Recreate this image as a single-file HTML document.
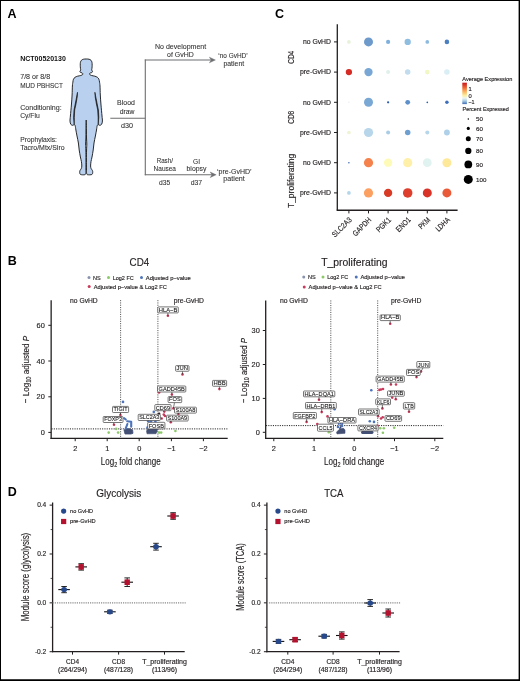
<!DOCTYPE html>
<html><head><meta charset="utf-8"><style>html,body{margin:0;padding:0;background:#fff;}svg{display:block;will-change:transform;font-family:"Liberation Sans", sans-serif;}</style></head><body>
<svg width="520" height="681" viewBox="0 0 520 681">
<rect x="0" y="0" width="520" height="681" fill="#000"/>
<rect x="1" y="1" width="517.6" height="678.25" fill="#fff"/>
<text x="7.5" y="17.6" font-size="12.5" font-weight="bold" fill="#000">A</text>
<text x="275" y="17.8" font-size="12.5" font-weight="bold" fill="#000">C</text>
<text x="7.85" y="264.8" font-size="12.5" font-weight="bold" fill="#000">B</text>
<text x="7.85" y="495.6" font-size="12.5" font-weight="bold" fill="#000">D</text>
<text x="20.2" y="61" font-size="6.9" font-weight="bold" textLength="45.6" lengthAdjust="spacingAndGlyphs" fill="#111">NCT00520130</text>
<text x="20.2" y="79.4" font-size="6.8" textLength="30" lengthAdjust="spacingAndGlyphs" fill="#333" stroke="#333" stroke-width="0.08">7/8 or 8/8</text>
<text x="20.2" y="87.5" font-size="6.8" textLength="42.7" lengthAdjust="spacingAndGlyphs" fill="#333" stroke="#333" stroke-width="0.08">MUD PBHSCT</text>
<text x="20.2" y="109.8" font-size="6.8" textLength="41.5" lengthAdjust="spacingAndGlyphs" fill="#333" stroke="#333" stroke-width="0.08">Conditioning:</text>
<text x="20.2" y="117.9" font-size="6.8" textLength="19.6" lengthAdjust="spacingAndGlyphs" fill="#333" stroke="#333" stroke-width="0.08">Cy/Flu</text>
<text x="20.2" y="141.5" font-size="6.8" textLength="36.7" lengthAdjust="spacingAndGlyphs" fill="#333" stroke="#333" stroke-width="0.08">Prophylaxis:</text>
<text x="20.2" y="149.6" font-size="6.8" textLength="44.4" lengthAdjust="spacingAndGlyphs" fill="#333" stroke="#333" stroke-width="0.08">Tacro/Mtx/Siro</text>
<path d="M86.20,59.00 C87.17,59.00 88.30,59.03 89.10,59.25 C89.90,59.47 90.53,59.79 91.00,60.30 C91.47,60.81 91.76,61.48 91.95,62.30 C92.14,63.12 92.15,64.20 92.15,65.20 C92.15,66.20 92.03,67.50 91.95,68.30 C91.88,69.10 91.61,69.43 91.70,70.00 C91.79,70.57 92.52,71.27 92.50,71.70 C92.48,72.13 91.97,72.40 91.60,72.60 C91.23,72.80 90.62,72.75 90.30,72.90 C89.98,73.05 89.78,73.22 89.70,73.50 C89.62,73.78 89.48,74.27 89.80,74.60 C90.12,74.93 90.77,75.23 91.60,75.50 C92.43,75.77 93.83,75.90 94.80,76.20 C95.77,76.50 96.72,76.80 97.40,77.30 C98.08,77.80 98.55,78.42 98.90,79.20 C99.25,79.98 99.32,80.87 99.50,82.00 C99.68,83.13 99.87,83.83 100.00,86.00 C100.13,88.17 100.13,91.83 100.30,95.00 C100.47,98.17 100.72,101.50 101.00,105.00 C101.28,108.50 101.77,113.33 102.00,116.00 C102.23,118.67 102.47,119.62 102.40,121.00 C102.33,122.38 102.05,123.58 101.60,124.30 C101.15,125.02 100.27,125.25 99.70,125.30 C99.13,125.35 98.62,124.52 98.20,124.60 C97.78,124.68 97.48,124.90 97.20,125.80 C96.92,126.70 96.80,128.30 96.50,130.00 C96.20,131.70 95.82,133.83 95.40,136.00 C94.98,138.17 94.37,140.67 94.00,143.00 C93.63,145.33 93.53,147.67 93.20,150.00 C92.87,152.33 92.37,155.08 92.00,157.00 C91.63,158.92 91.23,160.00 91.00,161.50 C90.77,163.00 90.58,164.83 90.60,166.00 C90.62,167.17 90.80,167.75 91.10,168.50 C91.40,169.25 92.13,169.82 92.40,170.50 C92.67,171.18 92.80,171.93 92.70,172.60 C92.60,173.27 92.63,174.15 91.80,174.50 C90.97,174.85 88.57,174.92 87.70,174.70 C86.83,174.48 86.81,174.15 86.60,173.20 C86.39,172.25 86.48,171.20 86.45,169.00 C86.42,166.80 86.38,163.17 86.40,160.00 C86.42,156.83 86.48,152.67 86.55,150.00 C86.62,147.33 86.81,146.00 86.80,144.00 C86.79,142.00 86.58,140.33 86.50,138.00 C86.42,135.67 86.40,133.00 86.35,130.00 C86.30,127.00 86.25,120.00 86.20,120.00 C86.15,120.00 86.10,127.00 86.05,130.00 C86.00,133.00 85.98,135.67 85.90,138.00 C85.83,140.33 85.61,142.00 85.60,144.00 C85.59,146.00 85.78,147.33 85.85,150.00 C85.92,152.67 85.98,156.83 86.00,160.00 C86.02,163.17 85.98,166.80 85.95,169.00 C85.92,171.20 86.01,172.25 85.80,173.20 C85.59,174.15 85.57,174.48 84.70,174.70 C83.83,174.92 81.43,174.85 80.60,174.50 C79.77,174.15 79.80,173.27 79.70,172.60 C79.60,171.93 79.73,171.18 80.00,170.50 C80.27,169.82 81.00,169.25 81.30,168.50 C81.60,167.75 81.78,167.17 81.80,166.00 C81.82,164.83 81.63,163.00 81.40,161.50 C81.17,160.00 80.77,158.92 80.40,157.00 C80.03,155.08 79.53,152.33 79.20,150.00 C78.87,147.67 78.77,145.33 78.40,143.00 C78.03,140.67 77.42,138.17 77.00,136.00 C76.58,133.83 76.20,131.70 75.90,130.00 C75.60,128.30 75.48,126.70 75.20,125.80 C74.92,124.90 74.62,124.68 74.20,124.60 C73.78,124.52 73.27,125.35 72.70,125.30 C72.13,125.25 71.25,125.02 70.80,124.30 C70.35,123.58 70.07,122.38 70.00,121.00 C69.93,119.62 70.17,118.67 70.40,116.00 C70.63,113.33 71.12,108.50 71.40,105.00 C71.68,101.50 71.93,98.17 72.10,95.00 C72.27,91.83 72.27,88.17 72.40,86.00 C72.53,83.83 72.72,83.13 72.90,82.00 C73.08,80.87 73.15,79.98 73.50,79.20 C73.85,78.42 74.32,77.80 75.00,77.30 C75.68,76.80 76.63,76.50 77.60,76.20 C78.57,75.90 79.97,75.77 80.80,75.50 C81.63,75.23 82.28,74.93 82.60,74.60 C82.92,74.27 82.78,73.78 82.70,73.50 C82.62,73.22 82.42,73.05 82.10,72.90 C81.78,72.75 81.17,72.80 80.80,72.60 C80.43,72.40 79.92,72.13 79.90,71.70 C79.88,71.27 80.61,70.57 80.70,70.00 C80.79,69.43 80.53,69.10 80.45,68.30 C80.38,67.50 80.25,66.20 80.25,65.20 C80.25,64.20 80.26,63.12 80.45,62.30 C80.64,61.48 80.93,60.81 81.40,60.30 C81.88,59.79 82.50,59.47 83.30,59.25 C84.10,59.03 85.23,59.00 86.20,59.00 Z" fill="#b9d1ef" stroke="#1e1e1e" stroke-width="0.95" stroke-linejoin="round"/>
<polygon points="94.90,92.30 95.80,97.00 97.20,104.00 98.40,110.00 98.80,117.40 98.20,124.60 98.10,117.40 97.70,110.00 96.40,104.00 95.20,97.00" fill="#1e1e1e" stroke="#1e1e1e" stroke-width="0.7" stroke-linejoin="round"/>
<polygon points="77.50,92.30 76.60,97.00 75.20,104.00 74.00,110.00 73.60,117.40 74.20,124.60 74.30,117.40 74.70,110.00 76.00,104.00 77.20,97.00" fill="#1e1e1e" stroke="#1e1e1e" stroke-width="0.7" stroke-linejoin="round"/>
<line x1="110.3" y1="118.3" x2="145.3" y2="118.3" stroke="#6d6e71" stroke-width="1.1"/>
<line x1="145.3" y1="59.45" x2="145.3" y2="175.35" stroke="#6d6e71" stroke-width="1.1"/>
<line x1="144.8" y1="60" x2="212" y2="60" stroke="#6d6e71" stroke-width="1.1"/>
<line x1="144.8" y1="174.8" x2="212.8" y2="174.8" stroke="#6d6e71" stroke-width="1.1"/>
<path d="M215.4,60 L209.4,57.2 L211.2,60 L209.4,62.8 Z" fill="#6d6e71" stroke="#6d6e71" stroke-width="0.4" stroke-linejoin="round"/>
<path d="M216.2,174.8 L210.2,172.0 L212.0,174.8 L210.2,177.6 Z" fill="#6d6e71" stroke="#6d6e71" stroke-width="0.4" stroke-linejoin="round"/>
<text x="126" y="104.9" font-size="6.8" text-anchor="middle" textLength="17.8" lengthAdjust="spacingAndGlyphs" fill="#333" stroke="#333" stroke-width="0.08">Blood</text>
<text x="127" y="114.2" font-size="6.8" text-anchor="middle" textLength="14.7" lengthAdjust="spacingAndGlyphs" fill="#333" stroke="#333" stroke-width="0.08">draw</text>
<text x="127" y="127.7" font-size="6.8" text-anchor="middle" textLength="12" lengthAdjust="spacingAndGlyphs" fill="#333" stroke="#333" stroke-width="0.08">d30</text>
<text x="180.6" y="48.8" font-size="6.8" text-anchor="middle" textLength="51.2" lengthAdjust="spacingAndGlyphs" fill="#333" stroke="#333" stroke-width="0.08">No development</text>
<text x="180.4" y="56.9" font-size="6.8" text-anchor="middle" textLength="26.6" lengthAdjust="spacingAndGlyphs" fill="#333" stroke="#333" stroke-width="0.08">of GvHD</text>
<text x="233" y="57.8" font-size="6.8" text-anchor="middle" textLength="29.4" lengthAdjust="spacingAndGlyphs" fill="#333" stroke="#333" stroke-width="0.08">‘no GvHD’</text>
<text x="233.8" y="65.8" font-size="6.8" text-anchor="middle" textLength="20.7" lengthAdjust="spacingAndGlyphs" fill="#333" stroke="#333" stroke-width="0.08">patient</text>
<text x="164.8" y="162.9" font-size="6.8" text-anchor="middle" textLength="16.2" lengthAdjust="spacingAndGlyphs" fill="#333" stroke="#333" stroke-width="0.08">Rash/</text>
<text x="164.8" y="171.3" font-size="6.8" text-anchor="middle" textLength="22.4" lengthAdjust="spacingAndGlyphs" fill="#333" stroke="#333" stroke-width="0.08">Nausea</text>
<text x="164.6" y="185.2" font-size="6.8" text-anchor="middle" textLength="11.2" lengthAdjust="spacingAndGlyphs" fill="#333" stroke="#333" stroke-width="0.08">d35</text>
<text x="196.6" y="163.5" font-size="6.8" text-anchor="middle" textLength="7" lengthAdjust="spacingAndGlyphs" fill="#333" stroke="#333" stroke-width="0.08">GI</text>
<text x="196.5" y="171.3" font-size="6.8" text-anchor="middle" textLength="19.9" lengthAdjust="spacingAndGlyphs" fill="#333" stroke="#333" stroke-width="0.08">biopsy</text>
<text x="196.4" y="185.3" font-size="6.8" text-anchor="middle" textLength="11.5" lengthAdjust="spacingAndGlyphs" fill="#333" stroke="#333" stroke-width="0.08">d37</text>
<text x="234.3" y="174" font-size="6.8" text-anchor="middle" textLength="34.6" lengthAdjust="spacingAndGlyphs" fill="#333" stroke="#333" stroke-width="0.08">‘pre-GvHD’</text>
<text x="234.1" y="180.7" font-size="6.8" text-anchor="middle" textLength="21.5" lengthAdjust="spacingAndGlyphs" fill="#333" stroke="#333" stroke-width="0.08">patient</text>
<line x1="337.3" y1="24.2" x2="337.3" y2="210.6" stroke="#231f20" stroke-width="1.3"/>
<line x1="336.7" y1="210.3" x2="457.6" y2="210.3" stroke="#231f20" stroke-width="1.4"/>
<line x1="334" y1="41.9" x2="337.3" y2="41.9" stroke="#231f20" stroke-width="1"/>
<text x="331" y="44.199999999999996" font-size="6.7" text-anchor="end" textLength="28.1" lengthAdjust="spacingAndGlyphs" fill="#231f20" stroke="#231f20" stroke-width="0.15">no GvHD</text>
<line x1="334" y1="72.1" x2="337.3" y2="72.1" stroke="#231f20" stroke-width="1"/>
<text x="331" y="74.39999999999999" font-size="6.7" text-anchor="end" textLength="31" lengthAdjust="spacingAndGlyphs" fill="#231f20" stroke="#231f20" stroke-width="0.15">pre-GvHD</text>
<line x1="334" y1="102.3" x2="337.3" y2="102.3" stroke="#231f20" stroke-width="1"/>
<text x="331" y="104.6" font-size="6.7" text-anchor="end" textLength="28.1" lengthAdjust="spacingAndGlyphs" fill="#231f20" stroke="#231f20" stroke-width="0.15">no GvHD</text>
<line x1="334" y1="132.5" x2="337.3" y2="132.5" stroke="#231f20" stroke-width="1"/>
<text x="331" y="134.8" font-size="6.7" text-anchor="end" textLength="31" lengthAdjust="spacingAndGlyphs" fill="#231f20" stroke="#231f20" stroke-width="0.15">pre-GvHD</text>
<line x1="334" y1="162.7" x2="337.3" y2="162.7" stroke="#231f20" stroke-width="1"/>
<text x="331" y="165.0" font-size="6.7" text-anchor="end" textLength="28.1" lengthAdjust="spacingAndGlyphs" fill="#231f20" stroke="#231f20" stroke-width="0.15">no GvHD</text>
<line x1="334" y1="192.9" x2="337.3" y2="192.9" stroke="#231f20" stroke-width="1"/>
<text x="331" y="195.20000000000002" font-size="6.7" text-anchor="end" textLength="31" lengthAdjust="spacingAndGlyphs" fill="#231f20" stroke="#231f20" stroke-width="0.15">pre-GvHD</text>
<line x1="348.9" y1="210.3" x2="348.9" y2="213.4" stroke="#231f20" stroke-width="1"/>
<line x1="368.5" y1="210.3" x2="368.5" y2="213.4" stroke="#231f20" stroke-width="1"/>
<line x1="388.09999999999997" y1="210.3" x2="388.09999999999997" y2="213.4" stroke="#231f20" stroke-width="1"/>
<line x1="407.7" y1="210.3" x2="407.7" y2="213.4" stroke="#231f20" stroke-width="1"/>
<line x1="427.29999999999995" y1="210.3" x2="427.29999999999995" y2="213.4" stroke="#231f20" stroke-width="1"/>
<line x1="446.9" y1="210.3" x2="446.9" y2="213.4" stroke="#231f20" stroke-width="1"/>
<text transform="translate(294.4,57.3) rotate(-90)" x="0" y="0" font-size="9.7" text-anchor="middle" textLength="13" lengthAdjust="spacingAndGlyphs" fill="#231f20" stroke="#231f20" stroke-width="0.15">CD4</text>
<text transform="translate(294.4,117.3) rotate(-90)" x="0" y="0" font-size="9.7" text-anchor="middle" textLength="13" lengthAdjust="spacingAndGlyphs" fill="#231f20" stroke="#231f20" stroke-width="0.15">CD8</text>
<text transform="translate(294.4,180.9) rotate(-90)" x="0" y="0" font-size="9.7" text-anchor="middle" textLength="54.3" lengthAdjust="spacingAndGlyphs" fill="#231f20" stroke="#231f20" stroke-width="0.15">T_proliferating</text>
<text transform="translate(352.29999999999995,220.4) rotate(-45)" x="0" y="0" font-size="7.8" text-anchor="end" textLength="24.5" lengthAdjust="spacingAndGlyphs" fill="#231f20" stroke="#231f20" stroke-width="0.15">SLC2A3</text>
<text transform="translate(371.9,220.4) rotate(-45)" x="0" y="0" font-size="7.8" text-anchor="end" textLength="23" lengthAdjust="spacingAndGlyphs" fill="#231f20" stroke="#231f20" stroke-width="0.15">GAPDH</text>
<text transform="translate(391.49999999999994,220.4) rotate(-45)" x="0" y="0" font-size="7.8" text-anchor="end" textLength="17.5" lengthAdjust="spacingAndGlyphs" fill="#231f20" stroke="#231f20" stroke-width="0.15">PGK1</text>
<text transform="translate(411.09999999999997,220.4) rotate(-45)" x="0" y="0" font-size="7.8" text-anchor="end" textLength="17" lengthAdjust="spacingAndGlyphs" fill="#231f20" stroke="#231f20" stroke-width="0.15">ENO1</text>
<text transform="translate(430.69999999999993,220.4) rotate(-45)" x="0" y="0" font-size="7.8" text-anchor="end" textLength="13" lengthAdjust="spacingAndGlyphs" fill="#231f20" stroke="#231f20" stroke-width="0.15">PKM</text>
<text transform="translate(450.29999999999995,220.4) rotate(-45)" x="0" y="0" font-size="7.8" text-anchor="end" textLength="16.5" lengthAdjust="spacingAndGlyphs" fill="#231f20" stroke="#231f20" stroke-width="0.15">LDHA</text>
<circle cx="348.9" cy="41.9" r="1.85" fill="#e6f2da"/>
<circle cx="368.5" cy="41.9" r="4.5" fill="#6d9acb"/>
<circle cx="388.09999999999997" cy="41.9" r="2.1" fill="#7fb0dd"/>
<circle cx="407.7" cy="41.9" r="3.15" fill="#8fbde0"/>
<circle cx="427.29999999999995" cy="41.9" r="1.85" fill="#8cbadf"/>
<circle cx="446.9" cy="41.9" r="2.3" fill="#4a7fc1"/>
<circle cx="348.9" cy="72.1" r="3.15" fill="#d62a24"/>
<circle cx="368.5" cy="72.1" r="4.15" fill="#79a7d5"/>
<circle cx="388.09999999999997" cy="72.1" r="2.0" fill="#e0f0ec"/>
<circle cx="407.7" cy="72.1" r="2.75" fill="#c0dcee"/>
<circle cx="427.29999999999995" cy="72.1" r="2.3" fill="#f2f7c6"/>
<circle cx="446.9" cy="72.1" r="2.75" fill="#d9eef5"/>
<circle cx="348.9" cy="102.3" r="0.75" fill="#e8eef8"/>
<circle cx="368.5" cy="102.3" r="4.5" fill="#7aa8d4"/>
<circle cx="388.09999999999997" cy="102.3" r="1.15" fill="#2f5fae"/>
<circle cx="407.7" cy="102.3" r="2.4" fill="#5d8fca"/>
<circle cx="427.29999999999995" cy="102.3" r="0.85" fill="#3060b0"/>
<circle cx="446.9" cy="102.3" r="1.75" fill="#3d6fbb"/>
<circle cx="348.9" cy="132.5" r="1.85" fill="#eef5d5"/>
<circle cx="368.5" cy="132.5" r="4.6" fill="#b8d6ea"/>
<circle cx="388.09999999999997" cy="132.5" r="2.0" fill="#a9cde6"/>
<circle cx="407.7" cy="132.5" r="2.75" fill="#6d9fd0"/>
<circle cx="427.29999999999995" cy="132.5" r="2.0" fill="#b7d6ea"/>
<circle cx="446.9" cy="132.5" r="2.9" fill="#aed0e8"/>
<circle cx="348.9" cy="162.7" r="0.75" fill="#3a64b0"/>
<circle cx="368.5" cy="162.7" r="4.6" fill="#f5824c"/>
<circle cx="388.09999999999997" cy="162.7" r="4.15" fill="#fefbb8"/>
<circle cx="407.7" cy="162.7" r="4.6" fill="#fef0a8"/>
<circle cx="427.29999999999995" cy="162.7" r="4.35" fill="#e0f3f0"/>
<circle cx="446.9" cy="162.7" r="4.5" fill="#fee89a"/>
<circle cx="348.9" cy="192.9" r="1.85" fill="#b4d4ea"/>
<circle cx="368.5" cy="192.9" r="4.6" fill="#fca062"/>
<circle cx="388.09999999999997" cy="192.9" r="4.15" fill="#d93a25"/>
<circle cx="407.7" cy="192.9" r="4.75" fill="#de3e2c"/>
<circle cx="427.29999999999995" cy="192.9" r="4.5" fill="#d93226"/>
<circle cx="446.9" cy="192.9" r="4.5" fill="#e85a38"/>
<text x="462.3" y="80.8" font-size="5.3" textLength="50" lengthAdjust="spacingAndGlyphs" fill="#231f20" stroke="#231f20" stroke-width="0.15">Average Expression</text>
<defs><linearGradient id="cb" x1="0" y1="0" x2="0" y2="1"><stop offset="0" stop-color="#c8161d"/><stop offset="0.2" stop-color="#ea5a2e"/><stop offset="0.4" stop-color="#fbad5a"/><stop offset="0.6" stop-color="#fdf0a0"/><stop offset="0.72" stop-color="#eef6f0"/><stop offset="0.85" stop-color="#a8cce6"/><stop offset="1" stop-color="#3b6db5"/></linearGradient></defs>
<rect x="462.3" y="82.7" width="4.6" height="21.4" fill="url(#cb)"/>
<text x="468.6" y="90.8" font-size="5.8" fill="#231f20" stroke="#231f20" stroke-width="0.15">1</text>
<text x="468.4" y="97.7" font-size="5.8" fill="#231f20" stroke="#231f20" stroke-width="0.15">0</text>
<text x="468.4" y="104.4" font-size="5.8" textLength="6.2" lengthAdjust="spacingAndGlyphs" fill="#231f20" stroke="#231f20" stroke-width="0.15">−1</text>
<text x="462.5" y="111.25" font-size="5.3" textLength="46.25" lengthAdjust="spacingAndGlyphs" fill="#231f20" stroke="#231f20" stroke-width="0.15">Percent Expressed</text>
<circle cx="468.3" cy="119" r="0.75" fill="#000"/>
<text x="476" y="121.2" font-size="6.2" fill="#231f20" stroke="#231f20" stroke-width="0.15">50</text>
<circle cx="468.3" cy="128.4" r="1.55" fill="#000"/>
<text x="476" y="130.6" font-size="6.2" fill="#231f20" stroke="#231f20" stroke-width="0.15">60</text>
<circle cx="468.3" cy="138.75" r="2.5" fill="#000"/>
<text x="476" y="140.95" font-size="6.2" fill="#231f20" stroke="#231f20" stroke-width="0.15">70</text>
<circle cx="468.3" cy="150.9" r="3.125" fill="#000"/>
<text x="476" y="153.1" font-size="6.2" fill="#231f20" stroke="#231f20" stroke-width="0.15">80</text>
<circle cx="468.3" cy="164.4" r="3.875" fill="#000"/>
<text x="476" y="166.6" font-size="6.2" fill="#231f20" stroke="#231f20" stroke-width="0.15">90</text>
<circle cx="468.3" cy="179.4" r="4.5" fill="#000"/>
<text x="476" y="181.6" font-size="6.2" fill="#231f20" stroke="#231f20" stroke-width="0.15">100</text>
<text x="129.6" y="265.8" font-size="10.3" textLength="19.6" lengthAdjust="spacingAndGlyphs" fill="#231f20" stroke="#231f20" stroke-width="0.15">CD4</text>
<circle cx="89" cy="277.5" r="1.5" fill="#8a93ad"/>
<text x="93.1" y="279.8" font-size="5.9" textLength="7.7" lengthAdjust="spacingAndGlyphs" fill="#231f20" stroke="#231f20" stroke-width="0.15">NS</text>
<circle cx="108.5" cy="277.5" r="1.5" fill="#8dc96a"/>
<text x="112.7" y="279.8" font-size="5.9" textLength="21.1" lengthAdjust="spacingAndGlyphs" fill="#231f20" stroke="#231f20" stroke-width="0.15">Log2 FC</text>
<circle cx="141.5" cy="277.5" r="1.5" fill="#4d74bb"/>
<text x="145.8" y="279.8" font-size="5.9" textLength="45" lengthAdjust="spacingAndGlyphs" fill="#231f20" stroke="#231f20" stroke-width="0.15">Adjusted p−value</text>
<circle cx="89.2" cy="286.5" r="1.5" fill="#c93a5c"/>
<text x="93.8" y="288.7" font-size="5.9" textLength="73.1" lengthAdjust="spacingAndGlyphs" fill="#231f20" stroke="#231f20" stroke-width="0.15">Adjusted p−value &amp; Log2 FC</text>
<line x1="51.15" y1="300.2" x2="51.15" y2="439" stroke="#231f20" stroke-width="1.3"/>
<line x1="50.5" y1="438.4" x2="227.7" y2="438.4" stroke="#231f20" stroke-width="1.3"/>
<line x1="48.3" y1="432.4" x2="51.15" y2="432.4" stroke="#231f20" stroke-width="1"/>
<text x="44.8" y="435.0" font-size="7.4" text-anchor="end" fill="#231f20" stroke="#231f20" stroke-width="0.15">0</text>
<line x1="48.3" y1="396.8" x2="51.15" y2="396.8" stroke="#231f20" stroke-width="1"/>
<text x="44.8" y="399.40000000000003" font-size="7.4" text-anchor="end" fill="#231f20" stroke="#231f20" stroke-width="0.15">20</text>
<line x1="48.3" y1="361" x2="51.15" y2="361" stroke="#231f20" stroke-width="1"/>
<text x="44.8" y="363.6" font-size="7.4" text-anchor="end" fill="#231f20" stroke="#231f20" stroke-width="0.15">40</text>
<line x1="48.3" y1="325.3" x2="51.15" y2="325.3" stroke="#231f20" stroke-width="1"/>
<text x="44.8" y="327.90000000000003" font-size="7.4" text-anchor="end" fill="#231f20" stroke="#231f20" stroke-width="0.15">60</text>
<line x1="75.2" y1="438.4" x2="75.2" y2="441.2" stroke="#231f20" stroke-width="1"/>
<text x="75.2" y="451.2" font-size="7.4" text-anchor="middle" fill="#231f20" stroke="#231f20" stroke-width="0.15">2</text>
<line x1="107.2" y1="438.4" x2="107.2" y2="441.2" stroke="#231f20" stroke-width="1"/>
<text x="107.2" y="451.2" font-size="7.4" text-anchor="middle" fill="#231f20" stroke="#231f20" stroke-width="0.15">1</text>
<line x1="139.2" y1="438.4" x2="139.2" y2="441.2" stroke="#231f20" stroke-width="1"/>
<text x="139.2" y="451.2" font-size="7.4" text-anchor="middle" fill="#231f20" stroke="#231f20" stroke-width="0.15">0</text>
<line x1="171.4" y1="438.4" x2="171.4" y2="441.2" stroke="#231f20" stroke-width="1"/>
<text x="171.4" y="451.2" font-size="7.4" text-anchor="middle" fill="#231f20" stroke="#231f20" stroke-width="0.15">−1</text>
<line x1="203.4" y1="438.4" x2="203.4" y2="441.2" stroke="#231f20" stroke-width="1"/>
<text x="203.4" y="451.2" font-size="7.4" text-anchor="middle" fill="#231f20" stroke="#231f20" stroke-width="0.15">−2</text>
<text x="100.8" y="464.6" font-size="10" fill="#231f20" stroke="#231f20" stroke-width="0.15" textLength="59.9" lengthAdjust="spacingAndGlyphs">Log<tspan font-size="6.8" dy="2.1">2</tspan><tspan dy="-2.1"> fold change</tspan></text>
<text transform="translate(29.3,369.6) rotate(-90)" x="0" y="0" font-size="9.8" text-anchor="middle" fill="#231f20" stroke="#231f20" stroke-width="0.15" textLength="67.4" lengthAdjust="spacingAndGlyphs">− Log<tspan font-size="6.8" dy="2.1">10</tspan><tspan dy="-2.1"> adjusted </tspan><tspan font-style="italic">P</tspan></text>
<line x1="120.6" y1="300.1" x2="120.6" y2="438" stroke="#3a3a3a" stroke-width="0.85" stroke-dasharray="1.1 1.2"/>
<line x1="157.9" y1="300.1" x2="157.9" y2="438" stroke="#3a3a3a" stroke-width="0.85" stroke-dasharray="1.1 1.2"/>
<line x1="51.5" y1="428.9" x2="227.7" y2="428.9" stroke="#222" stroke-width="1.0" stroke-dasharray="1.1 1.2"/>
<text x="70.1" y="303.1" font-size="6.4" textLength="27.6" lengthAdjust="spacingAndGlyphs" fill="#231f20" stroke="#231f20" stroke-width="0.15">no GvHD</text>
<text x="173.7" y="303.1" font-size="6.4" textLength="30.3" lengthAdjust="spacingAndGlyphs" fill="#231f20" stroke="#231f20" stroke-width="0.15">pre-GvHD</text>
<polygon points="124,430 126,428.7 130,428.8 132.6,430 133,433.3 131,434 125,434" fill="#434f74" stroke="#434f74" stroke-width="0.8" stroke-linejoin="round"/>
<polyline points="124.2,418.2 125.8,419.5" fill="none" stroke="#4d74bb" stroke-width="2.1" stroke-linecap="round" stroke-linejoin="round"/>
<polyline points="127.2,421.3 131.2,421.8 131.2,426.8" fill="none" stroke="#4d74bb" stroke-width="2.1" stroke-linecap="round" stroke-linejoin="round"/>
<polyline points="127.4,424.0 126.6,426.2 125.6,428.6" fill="none" stroke="#4d74bb" stroke-width="2.1" stroke-linecap="round" stroke-linejoin="round"/>
<circle cx="148.0" cy="421.0" r="1.3" fill="#4d74bb"/>
<circle cx="149.5" cy="422.5" r="1.3" fill="#4d74bb"/>
<circle cx="150.0" cy="424.5" r="1.3" fill="#4d74bb"/>
<circle cx="151.0" cy="421.6" r="1.3" fill="#4d74bb"/>
<circle cx="153.5" cy="424.0" r="1.3" fill="#4d74bb"/>
<circle cx="155.0" cy="426.0" r="1.3" fill="#4d74bb"/>
<circle cx="149.0" cy="426.5" r="1.3" fill="#4d74bb"/>
<circle cx="147.5" cy="427.5" r="1.3" fill="#4d74bb"/>
<circle cx="155.4" cy="421.6" r="1.3" fill="#4d74bb"/>
<circle cx="156" cy="423.5" r="1.3" fill="#4d74bb"/>
<polygon points="146.5,431 148,428.3 156.8,428.1 157.3,431 156,433.7 147,433.8" fill="#434f74" stroke="#434f74" stroke-width="0.6" stroke-linejoin="round"/>
<circle cx="123" cy="401.9" r="1.3" fill="#4d74bb"/>
<circle cx="153.8" cy="411.9" r="1.3" fill="#4d74bb"/>
<circle cx="108.7" cy="432.6" r="1.3" fill="#8dc96a"/>
<circle cx="116.2" cy="428.9" r="1.3" fill="#8dc96a"/>
<circle cx="118.1" cy="432.6" r="1.3" fill="#8dc96a"/>
<circle cx="159.2" cy="432.6" r="1.3" fill="#8dc96a"/>
<circle cx="161.2" cy="432.6" r="1.3" fill="#8dc96a"/>
<circle cx="175.4" cy="431" r="1.3" fill="#8dc96a"/>
<circle cx="167.9" cy="315.8" r="1.3" fill="#c93a5c"/>
<circle cx="182.5" cy="374.4" r="1.3" fill="#c93a5c"/>
<circle cx="219.4" cy="389.1" r="1.3" fill="#c93a5c"/>
<circle cx="171.9" cy="394.6" r="1.3" fill="#c93a5c"/>
<circle cx="159.1" cy="392.5" r="1.3" fill="#c93a5c"/>
<circle cx="173.4" cy="408.4" r="1.3" fill="#c93a5c"/>
<circle cx="178.4" cy="414.1" r="1.3" fill="#c93a5c"/>
<circle cx="170.8" cy="422.3" r="1.3" fill="#c93a5c"/>
<circle cx="163.8" cy="414.6" r="1.3" fill="#c93a5c"/>
<circle cx="161.7" cy="418.5" r="1.3" fill="#c93a5c"/>
<circle cx="164.3" cy="411.6" r="1.3" fill="#c93a5c"/>
<circle cx="120.4" cy="415.1" r="1.3" fill="#c93a5c"/>
<circle cx="114" cy="424.7" r="1.3" fill="#c93a5c"/>
<circle cx="165" cy="416" r="1.3" fill="#c93a5c"/>
<circle cx="159.1" cy="413.7" r="1.3" fill="#2a1a22"/>
<line x1="167.9" y1="312.9" x2="167.9" y2="315.8" stroke="#222" stroke-width="0.6"/>
<line x1="182.5" y1="371.25" x2="182.5" y2="374.4" stroke="#222" stroke-width="0.6"/>
<line x1="219.4" y1="386.25" x2="219.4" y2="389.1" stroke="#222" stroke-width="0.6"/>
<line x1="171.9" y1="392" x2="171.9" y2="394.6" stroke="#222" stroke-width="0.6"/>
<line x1="174.5" y1="402.6" x2="173.4" y2="408.4" stroke="#222" stroke-width="0.6"/>
<line x1="120.4" y1="412.5" x2="120.4" y2="415.1" stroke="#222" stroke-width="0.6"/>
<line x1="113.5" y1="422.5" x2="114" y2="424.7" stroke="#222" stroke-width="0.6"/>
<line x1="178.4" y1="413.1" x2="178.4" y2="414.1" stroke="#222" stroke-width="0.6"/>
<line x1="170.8" y1="421" x2="170.8" y2="422.3" stroke="#222" stroke-width="0.6"/>
<line x1="163" y1="410.7" x2="164.3" y2="411.6" stroke="#222" stroke-width="0.6"/>
<line x1="160.3" y1="417.5" x2="161.7" y2="418.5" stroke="#222" stroke-width="0.6"/>
<rect x="157.8" y="306.9" width="20.50" height="6.00" rx="0.8" fill="#fff" stroke="#4a4a4a" stroke-width="0.75"/>
<text x="168.05" y="311.75" font-size="5.8" text-anchor="middle" textLength="18.5" lengthAdjust="spacingAndGlyphs" fill="#1a1a1a" stroke="#1a1a1a" stroke-width="0.1">HLA−B</text>
<rect x="175.6" y="365.6" width="13.40" height="5.65" rx="0.8" fill="#fff" stroke="#4a4a4a" stroke-width="0.75"/>
<text x="182.3" y="370.1" font-size="5.8" text-anchor="middle" textLength="11.4" lengthAdjust="spacingAndGlyphs" fill="#1a1a1a" stroke="#1a1a1a" stroke-width="0.1">JUN</text>
<rect x="212.5" y="380.4" width="14.10" height="5.85" rx="0.8" fill="#fff" stroke="#4a4a4a" stroke-width="0.75"/>
<text x="219.55" y="385.1" font-size="5.8" text-anchor="middle" textLength="12.1" lengthAdjust="spacingAndGlyphs" fill="#1a1a1a" stroke="#1a1a1a" stroke-width="0.1">HBB</text>
<rect x="157.5" y="386" width="28.30" height="6.00" rx="0.8" fill="#fff" stroke="#4a4a4a" stroke-width="0.75"/>
<text x="171.65" y="390.85" font-size="5.8" text-anchor="middle" textLength="26.3" lengthAdjust="spacingAndGlyphs" fill="#1a1a1a" stroke="#1a1a1a" stroke-width="0.1">GADD45B</text>
<rect x="168.1" y="396.6" width="13.60" height="6.00" rx="0.8" fill="#fff" stroke="#4a4a4a" stroke-width="0.75"/>
<text x="174.89999999999998" y="401.45000000000005" font-size="5.8" text-anchor="middle" textLength="11.6" lengthAdjust="spacingAndGlyphs" fill="#1a1a1a" stroke="#1a1a1a" stroke-width="0.1">FOS</text>
<rect x="154.8" y="404.6" width="16.20" height="6.10" rx="0.8" fill="#fff" stroke="#4a4a4a" stroke-width="0.75"/>
<text x="162.9" y="409.55" font-size="5.8" text-anchor="middle" textLength="14.2" lengthAdjust="spacingAndGlyphs" fill="#1a1a1a" stroke="#1a1a1a" stroke-width="0.1">CD69</text>
<rect x="174.5" y="407.2" width="21.90" height="5.90" rx="0.8" fill="#fff" stroke="#4a4a4a" stroke-width="0.75"/>
<text x="185.45" y="411.95000000000005" font-size="5.8" text-anchor="middle" textLength="19.9" lengthAdjust="spacingAndGlyphs" fill="#1a1a1a" stroke="#1a1a1a" stroke-width="0.1">S100A8</text>
<rect x="166.6" y="415.2" width="21.60" height="5.80" rx="0.8" fill="#fff" stroke="#4a4a4a" stroke-width="0.75"/>
<text x="177.39999999999998" y="419.85" font-size="5.8" text-anchor="middle" textLength="19.6" lengthAdjust="spacingAndGlyphs" fill="#1a1a1a" stroke="#1a1a1a" stroke-width="0.1">S100A9</text>
<rect x="138.2" y="414.3" width="22.10" height="6.20" rx="0.8" fill="#fff" stroke="#4a4a4a" stroke-width="0.75"/>
<text x="149.25" y="419.35" font-size="5.8" text-anchor="middle" textLength="20.1" lengthAdjust="spacingAndGlyphs" fill="#1a1a1a" stroke="#1a1a1a" stroke-width="0.1">SLC2A3</text>
<rect x="147.7" y="422.3" width="17.20" height="6.60" rx="0.8" fill="#fff" stroke="#4a4a4a" stroke-width="0.75"/>
<text x="156.3" y="427.75" font-size="5.8" text-anchor="middle" textLength="15.2" lengthAdjust="spacingAndGlyphs" fill="#1a1a1a" stroke="#1a1a1a" stroke-width="0.1">FOSB</text>
<rect x="112.5" y="406.4" width="16.10" height="6.10" rx="0.8" fill="#fff" stroke="#4a4a4a" stroke-width="0.75"/>
<text x="120.55" y="411.35" font-size="5.8" text-anchor="middle" textLength="14.1" lengthAdjust="spacingAndGlyphs" fill="#1a1a1a" stroke="#1a1a1a" stroke-width="0.1">TIGIT</text>
<rect x="103.2" y="416.5" width="19.80" height="6.00" rx="0.8" fill="#fff" stroke="#4a4a4a" stroke-width="0.75"/>
<text x="113.1" y="421.35" font-size="5.8" text-anchor="middle" textLength="17.8" lengthAdjust="spacingAndGlyphs" fill="#1a1a1a" stroke="#1a1a1a" stroke-width="0.1">FOXP3</text>
<text x="321.25" y="266.25" font-size="10.3" textLength="66.25" lengthAdjust="spacingAndGlyphs" fill="#231f20" stroke="#231f20" stroke-width="0.15">T_proliferating</text>
<circle cx="303.75" cy="277" r="1.5" fill="#8a93ad"/>
<text x="307.9" y="279.3" font-size="5.9" textLength="7.7" lengthAdjust="spacingAndGlyphs" fill="#231f20" stroke="#231f20" stroke-width="0.15">NS</text>
<circle cx="323" cy="277" r="1.5" fill="#8dc96a"/>
<text x="327.2" y="279.3" font-size="5.9" textLength="21.1" lengthAdjust="spacingAndGlyphs" fill="#231f20" stroke="#231f20" stroke-width="0.15">Log2 FC</text>
<circle cx="356.25" cy="277" r="1.5" fill="#4d74bb"/>
<text x="360.5" y="279.3" font-size="5.9" textLength="44.5" lengthAdjust="spacingAndGlyphs" fill="#231f20" stroke="#231f20" stroke-width="0.15">Adjusted p−value</text>
<circle cx="304.25" cy="287" r="1.5" fill="#c93a5c"/>
<text x="308.6" y="289.2" font-size="5.9" textLength="73.1" lengthAdjust="spacingAndGlyphs" fill="#231f20" stroke="#231f20" stroke-width="0.15">Adjusted p−value &amp; Log2 FC</text>
<line x1="265.7" y1="300.5" x2="265.7" y2="439" stroke="#231f20" stroke-width="1.3"/>
<line x1="265.1" y1="438.4" x2="443.3" y2="438.4" stroke="#231f20" stroke-width="1.3"/>
<line x1="262.8" y1="432.3" x2="265.7" y2="432.3" stroke="#231f20" stroke-width="1"/>
<text x="259.8" y="434.90000000000003" font-size="7.4" text-anchor="end" fill="#231f20" stroke="#231f20" stroke-width="0.15">0</text>
<line x1="262.8" y1="398.4" x2="265.7" y2="398.4" stroke="#231f20" stroke-width="1"/>
<text x="259.8" y="401.0" font-size="7.4" text-anchor="end" fill="#231f20" stroke="#231f20" stroke-width="0.15">10</text>
<line x1="262.8" y1="364.5" x2="265.7" y2="364.5" stroke="#231f20" stroke-width="1"/>
<text x="259.8" y="367.1" font-size="7.4" text-anchor="end" fill="#231f20" stroke="#231f20" stroke-width="0.15">20</text>
<line x1="262.8" y1="330.5" x2="265.7" y2="330.5" stroke="#231f20" stroke-width="1"/>
<text x="259.8" y="333.1" font-size="7.4" text-anchor="end" fill="#231f20" stroke="#231f20" stroke-width="0.15">30</text>
<line x1="273.8" y1="438.4" x2="273.8" y2="441.2" stroke="#231f20" stroke-width="1"/>
<text x="273.8" y="451.2" font-size="7.4" text-anchor="middle" fill="#231f20" stroke="#231f20" stroke-width="0.15">2</text>
<line x1="314.1" y1="438.4" x2="314.1" y2="441.2" stroke="#231f20" stroke-width="1"/>
<text x="314.1" y="451.2" font-size="7.4" text-anchor="middle" fill="#231f20" stroke="#231f20" stroke-width="0.15">1</text>
<line x1="354.2" y1="438.4" x2="354.2" y2="441.2" stroke="#231f20" stroke-width="1"/>
<text x="354.2" y="451.2" font-size="7.4" text-anchor="middle" fill="#231f20" stroke="#231f20" stroke-width="0.15">0</text>
<line x1="394.5" y1="438.4" x2="394.5" y2="441.2" stroke="#231f20" stroke-width="1"/>
<text x="394.5" y="451.2" font-size="7.4" text-anchor="middle" fill="#231f20" stroke="#231f20" stroke-width="0.15">−1</text>
<line x1="434.8" y1="438.4" x2="434.8" y2="441.2" stroke="#231f20" stroke-width="1"/>
<text x="434.8" y="451.2" font-size="7.4" text-anchor="middle" fill="#231f20" stroke="#231f20" stroke-width="0.15">−2</text>
<text x="324" y="464.8" font-size="10" fill="#231f20" stroke="#231f20" stroke-width="0.15" textLength="60.2" lengthAdjust="spacingAndGlyphs">Log<tspan font-size="6.8" dy="2.1">2</tspan><tspan dy="-2.1"> fold change</tspan></text>
<text transform="translate(246.6,370.5) rotate(-90)" x="0" y="0" font-size="9.8" text-anchor="middle" fill="#231f20" stroke="#231f20" stroke-width="0.15" textLength="65" lengthAdjust="spacingAndGlyphs">− Log<tspan font-size="6.8" dy="2.1">10</tspan><tspan dy="-2.1"> adjusted </tspan><tspan font-style="italic">P</tspan></text>
<line x1="330.8" y1="300.4" x2="330.8" y2="438" stroke="#3a3a3a" stroke-width="0.85" stroke-dasharray="1.1 1.2"/>
<line x1="377.7" y1="300.4" x2="377.7" y2="438" stroke="#3a3a3a" stroke-width="0.85" stroke-dasharray="1.1 1.2"/>
<line x1="266" y1="425.6" x2="443.3" y2="425.6" stroke="#222" stroke-width="1.0" stroke-dasharray="1.1 1.2"/>
<text x="279.9" y="303.1" font-size="6.4" textLength="27.9" lengthAdjust="spacingAndGlyphs" fill="#231f20" stroke="#231f20" stroke-width="0.15">no GvHD</text>
<text x="390.9" y="303.1" font-size="6.4" textLength="30.5" lengthAdjust="spacingAndGlyphs" fill="#231f20" stroke="#231f20" stroke-width="0.15">pre-GvHD</text>
<polygon points="336.5,432.2 339,429.6 341.5,428.6 343.5,428.3 345,430 345,433.3 337,433.9" fill="#434f74" stroke="#434f74" stroke-width="0.6" stroke-linejoin="round"/>
<line x1="342.2" y1="424.6" x2="339.6" y2="428.8" stroke="#3c4a74" stroke-width="1.6"/>
<circle cx="338.6" cy="423.9" r="1.0" fill="#5070b8"/>
<circle cx="340.5" cy="423.7" r="1.0" fill="#5070b8"/>
<circle cx="342.3" cy="424.0" r="1.0" fill="#5070b8"/>
<rect x="361.0" y="431.0" width="12.50" height="2.90" rx="1.4" fill="#434f74"/>
<circle cx="369.8" cy="421.3" r="1.3" fill="#4d74bb"/>
<circle cx="374" cy="421.9" r="1.3" fill="#4d74bb"/>
<circle cx="371.3" cy="390.2" r="1.3" fill="#4d74bb"/>
<circle cx="334.6" cy="409.2" r="1.3" fill="#4d74bb"/>
<circle cx="338" cy="427" r="1.3" fill="#4d74bb"/>
<circle cx="342" cy="426" r="1.3" fill="#4d74bb"/>
<circle cx="328.8" cy="432.3" r="1.3" fill="#8dc96a"/>
<circle cx="380.2" cy="428.3" r="1.3" fill="#8dc96a"/>
<circle cx="383.8" cy="428.3" r="1.3" fill="#8dc96a"/>
<circle cx="382.9" cy="432.7" r="1.3" fill="#8dc96a"/>
<circle cx="394.2" cy="427.7" r="1.3" fill="#8dc96a"/>
<circle cx="390.2" cy="323.7" r="1.3" fill="#c93a5c"/>
<circle cx="421" cy="371.6" r="1.3" fill="#c93a5c"/>
<circle cx="416.5" cy="377.1" r="1.3" fill="#c93a5c"/>
<circle cx="390.9" cy="384.5" r="1.3" fill="#c93a5c"/>
<circle cx="396" cy="384.5" r="1.3" fill="#c93a5c"/>
<circle cx="392.2" cy="397.6" r="1.3" fill="#c93a5c"/>
<circle cx="395.8" cy="399.3" r="1.3" fill="#c93a5c"/>
<circle cx="382.4" cy="408.4" r="1.3" fill="#c93a5c"/>
<circle cx="409" cy="411.7" r="1.3" fill="#c93a5c"/>
<circle cx="379.4" cy="389.9" r="1.3" fill="#c93a5c"/>
<circle cx="381" cy="389.5" r="1.3" fill="#c93a5c"/>
<circle cx="383" cy="389" r="1.3" fill="#c93a5c"/>
<circle cx="381" cy="418.5" r="1.3" fill="#c93a5c"/>
<circle cx="382.7" cy="417.3" r="1.3" fill="#c93a5c"/>
<circle cx="319" cy="399.8" r="1.3" fill="#c93a5c"/>
<circle cx="321.7" cy="412.1" r="1.3" fill="#c93a5c"/>
<circle cx="306.6" cy="421.9" r="1.3" fill="#c93a5c"/>
<circle cx="327.5" cy="416.4" r="1.3" fill="#c93a5c"/>
<circle cx="317.3" cy="424" r="1.3" fill="#c93a5c"/>
<circle cx="378.1" cy="416.2" r="1.3" fill="#c93a5c"/>
<circle cx="377.5" cy="425.8" r="1.3" fill="#c93a5c"/>
<line x1="390.2" y1="320.6" x2="390.2" y2="323.7" stroke="#222" stroke-width="0.6"/>
<line x1="423" y1="367.8" x2="421" y2="371.6" stroke="#222" stroke-width="0.6"/>
<line x1="416.5" y1="375.5" x2="416.5" y2="377.1" stroke="#222" stroke-width="0.6"/>
<line x1="390.9" y1="382.1" x2="390.9" y2="384.5" stroke="#222" stroke-width="0.6"/>
<line x1="395.8" y1="396.2" x2="395.8" y2="399.3" stroke="#222" stroke-width="0.6"/>
<line x1="382.4" y1="404.7" x2="382.4" y2="408.4" stroke="#222" stroke-width="0.6"/>
<line x1="409" y1="409" x2="409" y2="411.7" stroke="#222" stroke-width="0.6"/>
<line x1="378.1" y1="415" x2="378.1" y2="416.2" stroke="#222" stroke-width="0.6"/>
<line x1="319" y1="396.8" x2="319" y2="399.8" stroke="#222" stroke-width="0.6"/>
<line x1="321.7" y1="408.7" x2="321.7" y2="412.1" stroke="#222" stroke-width="0.6"/>
<line x1="306.6" y1="418.7" x2="306.6" y2="421.9" stroke="#222" stroke-width="0.6"/>
<rect x="380.1" y="314.9" width="20.20" height="5.70" rx="0.8" fill="#fff" stroke="#4a4a4a" stroke-width="0.75"/>
<text x="390.20000000000005" y="319.45000000000005" font-size="5.8" text-anchor="middle" textLength="18.2" lengthAdjust="spacingAndGlyphs" fill="#1a1a1a" stroke="#1a1a1a" stroke-width="0.1">HLA−B</text>
<rect x="416.8" y="361.5" width="13.00" height="6.30" rx="0.8" fill="#fff" stroke="#4a4a4a" stroke-width="0.75"/>
<text x="423.3" y="366.65000000000003" font-size="5.8" text-anchor="middle" textLength="11.0" lengthAdjust="spacingAndGlyphs" fill="#1a1a1a" stroke="#1a1a1a" stroke-width="0.1">JUN</text>
<rect x="406.5" y="369.4" width="13.70" height="6.10" rx="0.8" fill="#fff" stroke="#4a4a4a" stroke-width="0.75"/>
<text x="413.35" y="374.35" font-size="5.8" text-anchor="middle" textLength="11.7" lengthAdjust="spacingAndGlyphs" fill="#1a1a1a" stroke="#1a1a1a" stroke-width="0.1">FOS</text>
<rect x="376.1" y="376.1" width="28.20" height="6.00" rx="0.8" fill="#fff" stroke="#4a4a4a" stroke-width="0.75"/>
<text x="390.20000000000005" y="380.95000000000005" font-size="5.8" text-anchor="middle" textLength="26.2" lengthAdjust="spacingAndGlyphs" fill="#1a1a1a" stroke="#1a1a1a" stroke-width="0.1">GADD45B</text>
<rect x="387.5" y="390.9" width="16.80" height="5.30" rx="0.8" fill="#fff" stroke="#4a4a4a" stroke-width="0.75"/>
<text x="395.9" y="395.05" font-size="5.8" text-anchor="middle" textLength="14.8" lengthAdjust="spacingAndGlyphs" fill="#1a1a1a" stroke="#1a1a1a" stroke-width="0.1">JUNB</text>
<rect x="375.7" y="398.9" width="14.80" height="5.80" rx="0.8" fill="#fff" stroke="#4a4a4a" stroke-width="0.75"/>
<text x="383.1" y="403.55" font-size="5.8" text-anchor="middle" textLength="12.8" lengthAdjust="spacingAndGlyphs" fill="#1a1a1a" stroke="#1a1a1a" stroke-width="0.1">KLF6</text>
<rect x="403.4" y="402.7" width="11.30" height="6.30" rx="0.8" fill="#fff" stroke="#4a4a4a" stroke-width="0.75"/>
<text x="409.04999999999995" y="407.85" font-size="5.8" text-anchor="middle" textLength="9.3" lengthAdjust="spacingAndGlyphs" fill="#1a1a1a" stroke="#1a1a1a" stroke-width="0.1">LTB</text>
<rect x="358.5" y="409" width="20.70" height="6.00" rx="0.8" fill="#fff" stroke="#4a4a4a" stroke-width="0.75"/>
<text x="368.85" y="413.85" font-size="5.8" text-anchor="middle" textLength="18.7" lengthAdjust="spacingAndGlyphs" fill="#1a1a1a" stroke="#1a1a1a" stroke-width="0.1">SLC2A3</text>
<rect x="385" y="415.6" width="16.60" height="5.70" rx="0.8" fill="#fff" stroke="#4a4a4a" stroke-width="0.75"/>
<text x="393.3" y="420.15000000000003" font-size="5.8" text-anchor="middle" textLength="14.6" lengthAdjust="spacingAndGlyphs" fill="#1a1a1a" stroke="#1a1a1a" stroke-width="0.1">CD69</text>
<rect x="357.9" y="425.2" width="20.20" height="5.70" rx="0.8" fill="#fff" stroke="#4a4a4a" stroke-width="0.75"/>
<text x="368.0" y="429.75" font-size="5.8" text-anchor="middle" textLength="18.2" lengthAdjust="spacingAndGlyphs" fill="#1a1a1a" stroke="#1a1a1a" stroke-width="0.1">CXCR4</text>
<rect x="303.5" y="391" width="31.30" height="5.80" rx="0.8" fill="#fff" stroke="#4a4a4a" stroke-width="0.75"/>
<text x="319.15" y="395.65000000000003" font-size="5.8" text-anchor="middle" textLength="29.3" lengthAdjust="spacingAndGlyphs" fill="#1a1a1a" stroke="#1a1a1a" stroke-width="0.1">HLA−DQA1</text>
<rect x="305.5" y="402.5" width="30.80" height="6.20" rx="0.8" fill="#fff" stroke="#4a4a4a" stroke-width="0.75"/>
<text x="320.9" y="407.55" font-size="5.8" text-anchor="middle" textLength="28.8" lengthAdjust="spacingAndGlyphs" fill="#1a1a1a" stroke="#1a1a1a" stroke-width="0.1">HLA−DRB1</text>
<rect x="293.3" y="412.5" width="23.10" height="6.20" rx="0.8" fill="#fff" stroke="#4a4a4a" stroke-width="0.75"/>
<text x="304.85" y="417.55" font-size="5.8" text-anchor="middle" textLength="21.1" lengthAdjust="spacingAndGlyphs" fill="#1a1a1a" stroke="#1a1a1a" stroke-width="0.1">FGFBP2</text>
<rect x="327.9" y="417.5" width="28.10" height="5.50" rx="0.8" fill="#fff" stroke="#4a4a4a" stroke-width="0.75"/>
<text x="341.95" y="421.85" font-size="5.8" text-anchor="middle" textLength="26.1" lengthAdjust="spacingAndGlyphs" fill="#1a1a1a" stroke="#1a1a1a" stroke-width="0.1">HLA−DRA</text>
<rect x="317.5" y="424.2" width="16.00" height="7.00" rx="0.8" fill="#fff" stroke="#4a4a4a" stroke-width="0.75"/>
<text x="325.5" y="430.05" font-size="5.8" text-anchor="middle" textLength="14.0" lengthAdjust="spacingAndGlyphs" fill="#1a1a1a" stroke="#1a1a1a" stroke-width="0.1">CCL5</text>
<text x="96.3" y="496.5" font-size="10.3" textLength="44.9" lengthAdjust="spacingAndGlyphs" fill="#231f20" stroke="#231f20" stroke-width="0.15">Glycolysis</text>
<line x1="52.6" y1="502.5" x2="52.6" y2="652.2" stroke="#231f20" stroke-width="1.3"/>
<line x1="52.0" y1="651.6" x2="184.7" y2="651.6" stroke="#231f20" stroke-width="1.3"/>
<line x1="49.6" y1="505.13" x2="52.6" y2="505.13" stroke="#231f20" stroke-width="1"/>
<text x="46.300000000000004" y="507.43" font-size="6.6" text-anchor="end" fill="#231f20" stroke="#231f20" stroke-width="0.15">0.4</text>
<line x1="49.6" y1="553.99" x2="52.6" y2="553.99" stroke="#231f20" stroke-width="1"/>
<text x="46.300000000000004" y="556.29" font-size="6.6" text-anchor="end" fill="#231f20" stroke="#231f20" stroke-width="0.15">0.2</text>
<line x1="49.6" y1="602.85" x2="52.6" y2="602.85" stroke="#231f20" stroke-width="1"/>
<text x="46.300000000000004" y="605.15" font-size="6.6" text-anchor="end" fill="#231f20" stroke="#231f20" stroke-width="0.15">0.0</text>
<line x1="49.6" y1="651.71" x2="52.6" y2="651.71" stroke="#231f20" stroke-width="1"/>
<text x="46.300000000000004" y="654.01" font-size="6.6" text-anchor="end" fill="#231f20" stroke="#231f20" stroke-width="0.15">-0.2</text>
<line x1="50.6" y1="529.5600000000001" x2="52.6" y2="529.5600000000001" stroke="#231f20" stroke-width="0.8"/>
<line x1="50.6" y1="578.4200000000001" x2="52.6" y2="578.4200000000001" stroke="#231f20" stroke-width="0.8"/>
<line x1="50.6" y1="627.28" x2="52.6" y2="627.28" stroke="#231f20" stroke-width="0.8"/>
<line x1="52.6" y1="602.85" x2="185.7" y2="602.85" stroke="#8a8a8a" stroke-width="1.1" stroke-dasharray="1.2 1"/>
<line x1="72.5" y1="651.6" x2="72.5" y2="654.6" stroke="#231f20" stroke-width="1"/>
<text x="72.5" y="663.7" font-size="6.3" text-anchor="middle" textLength="13" lengthAdjust="spacingAndGlyphs" fill="#231f20" stroke="#231f20" stroke-width="0.15">CD4</text>
<text x="72.5" y="671.7" font-size="6.3" text-anchor="middle" textLength="29" lengthAdjust="spacingAndGlyphs" fill="#231f20" stroke="#231f20" stroke-width="0.15">(264/294)</text>
<line x1="118.6" y1="651.6" x2="118.6" y2="654.6" stroke="#231f20" stroke-width="1"/>
<text x="118.6" y="663.7" font-size="6.3" text-anchor="middle" textLength="13" lengthAdjust="spacingAndGlyphs" fill="#231f20" stroke="#231f20" stroke-width="0.15">CD8</text>
<text x="118.6" y="671.7" font-size="6.3" text-anchor="middle" textLength="29" lengthAdjust="spacingAndGlyphs" fill="#231f20" stroke="#231f20" stroke-width="0.15">(487/128)</text>
<line x1="164.5" y1="651.6" x2="164.5" y2="654.6" stroke="#231f20" stroke-width="1"/>
<text x="164.5" y="663.7" font-size="6.3" text-anchor="middle" textLength="44.7" lengthAdjust="spacingAndGlyphs" fill="#231f20" stroke="#231f20" stroke-width="0.15">T_proliferating</text>
<text x="164.5" y="671.7" font-size="6.3" text-anchor="middle" textLength="25" lengthAdjust="spacingAndGlyphs" fill="#231f20" stroke="#231f20" stroke-width="0.15">(113/96)</text>
<text transform="translate(29.4,577) rotate(-90)" x="0" y="0" font-size="10" text-anchor="middle" fill="#231f20" stroke="#231f20" stroke-width="0.15" textLength="88.5" lengthAdjust="spacingAndGlyphs">Module score (glycolysis)</text>
<circle cx="63.650000000000006" cy="511.1" r="2.6" fill="#27498c"/>
<text x="70.05000000000001" y="512.9" font-size="5.6" textLength="23" lengthAdjust="spacingAndGlyphs" fill="#231f20" stroke="#231f20" stroke-width="0.15">no GvHD</text>
<rect x="61.050000000000004" y="518.9" width="5.2" height="5.2" fill="#b3112e"/>
<text x="70.05000000000001" y="523.4" font-size="5.6" textLength="25.6" lengthAdjust="spacingAndGlyphs" fill="#231f20" stroke="#231f20" stroke-width="0.15">pre-GvHD</text>
<line x1="58.3" y1="589.6" x2="69.89999999999999" y2="589.6" stroke="#111" stroke-width="1.1"/>
<line x1="64.1" y1="586.5" x2="64.1" y2="592.7" stroke="#111" stroke-width="0.9"/>
<line x1="61.3" y1="586.5" x2="66.89999999999999" y2="586.5" stroke="#111" stroke-width="0.9"/>
<line x1="61.3" y1="592.7" x2="66.89999999999999" y2="592.7" stroke="#111" stroke-width="0.9"/>
<ellipse cx="64.1" cy="589.6" rx="2.9" ry="2.6" fill="#27498c"/>
<line x1="75.4" y1="566.9" x2="87.0" y2="566.9" stroke="#111" stroke-width="1.1"/>
<line x1="81.2" y1="563.6999999999999" x2="81.2" y2="570.1" stroke="#111" stroke-width="0.9"/>
<line x1="78.4" y1="563.6999999999999" x2="84.0" y2="563.6999999999999" stroke="#111" stroke-width="0.9"/>
<line x1="78.4" y1="570.1" x2="84.0" y2="570.1" stroke="#111" stroke-width="0.9"/>
<rect x="78.5" y="564.1" width="5.4" height="5.6" fill="#b3112e"/>
<line x1="104.10000000000001" y1="611.8" x2="115.7" y2="611.8" stroke="#111" stroke-width="1.1"/>
<line x1="109.9" y1="610.1999999999999" x2="109.9" y2="613.4" stroke="#111" stroke-width="0.9"/>
<line x1="107.10000000000001" y1="610.1999999999999" x2="112.7" y2="610.1999999999999" stroke="#111" stroke-width="0.9"/>
<line x1="107.10000000000001" y1="613.4" x2="112.7" y2="613.4" stroke="#111" stroke-width="0.9"/>
<ellipse cx="109.9" cy="611.8" rx="2.9" ry="2.6" fill="#27498c"/>
<line x1="121.4" y1="582.2" x2="133.0" y2="582.2" stroke="#111" stroke-width="1.1"/>
<line x1="127.2" y1="577.9000000000001" x2="127.2" y2="586.5" stroke="#111" stroke-width="0.9"/>
<line x1="124.4" y1="577.9000000000001" x2="130.0" y2="577.9000000000001" stroke="#111" stroke-width="0.9"/>
<line x1="124.4" y1="586.5" x2="130.0" y2="586.5" stroke="#111" stroke-width="0.9"/>
<rect x="124.5" y="579.4000000000001" width="5.4" height="5.6" fill="#b3112e"/>
<line x1="150.2" y1="546.7" x2="161.8" y2="546.7" stroke="#111" stroke-width="1.1"/>
<line x1="156" y1="543.3000000000001" x2="156" y2="550.1" stroke="#111" stroke-width="0.9"/>
<line x1="153.2" y1="543.3000000000001" x2="158.8" y2="543.3000000000001" stroke="#111" stroke-width="0.9"/>
<line x1="153.2" y1="550.1" x2="158.8" y2="550.1" stroke="#111" stroke-width="0.9"/>
<ellipse cx="156" cy="546.7" rx="2.9" ry="2.6" fill="#27498c"/>
<line x1="167.29999999999998" y1="516" x2="178.9" y2="516" stroke="#111" stroke-width="1.1"/>
<line x1="173.1" y1="512.7" x2="173.1" y2="519.3" stroke="#111" stroke-width="0.9"/>
<line x1="170.29999999999998" y1="512.7" x2="175.9" y2="512.7" stroke="#111" stroke-width="0.9"/>
<line x1="170.29999999999998" y1="519.3" x2="175.9" y2="519.3" stroke="#111" stroke-width="0.9"/>
<rect x="170.4" y="513.2" width="5.4" height="5.6" fill="#b3112e"/>
<text x="324.2" y="496.5" font-size="10.3" textLength="19.3" lengthAdjust="spacingAndGlyphs" fill="#231f20" stroke="#231f20" stroke-width="0.15">TCA</text>
<line x1="266.9" y1="502.5" x2="266.9" y2="652.2" stroke="#231f20" stroke-width="1.3"/>
<line x1="266.29999999999995" y1="651.6" x2="399.6" y2="651.6" stroke="#231f20" stroke-width="1.3"/>
<line x1="263.9" y1="505.13" x2="266.9" y2="505.13" stroke="#231f20" stroke-width="1"/>
<text x="260.59999999999997" y="507.43" font-size="6.6" text-anchor="end" fill="#231f20" stroke="#231f20" stroke-width="0.15">0.4</text>
<line x1="263.9" y1="553.99" x2="266.9" y2="553.99" stroke="#231f20" stroke-width="1"/>
<text x="260.59999999999997" y="556.29" font-size="6.6" text-anchor="end" fill="#231f20" stroke="#231f20" stroke-width="0.15">0.2</text>
<line x1="263.9" y1="602.85" x2="266.9" y2="602.85" stroke="#231f20" stroke-width="1"/>
<text x="260.59999999999997" y="605.15" font-size="6.6" text-anchor="end" fill="#231f20" stroke="#231f20" stroke-width="0.15">0.0</text>
<line x1="263.9" y1="651.71" x2="266.9" y2="651.71" stroke="#231f20" stroke-width="1"/>
<text x="260.59999999999997" y="654.01" font-size="6.6" text-anchor="end" fill="#231f20" stroke="#231f20" stroke-width="0.15">-0.2</text>
<line x1="264.9" y1="529.5600000000001" x2="266.9" y2="529.5600000000001" stroke="#231f20" stroke-width="0.8"/>
<line x1="264.9" y1="578.4200000000001" x2="266.9" y2="578.4200000000001" stroke="#231f20" stroke-width="0.8"/>
<line x1="264.9" y1="627.28" x2="266.9" y2="627.28" stroke="#231f20" stroke-width="0.8"/>
<line x1="266.9" y1="602.85" x2="400.6" y2="602.85" stroke="#8a8a8a" stroke-width="1.1" stroke-dasharray="1.2 1"/>
<line x1="287.8" y1="651.6" x2="287.8" y2="654.6" stroke="#231f20" stroke-width="1"/>
<text x="287.8" y="663.7" font-size="6.3" text-anchor="middle" textLength="13" lengthAdjust="spacingAndGlyphs" fill="#231f20" stroke="#231f20" stroke-width="0.15">CD4</text>
<text x="287.8" y="671.7" font-size="6.3" text-anchor="middle" textLength="29" lengthAdjust="spacingAndGlyphs" fill="#231f20" stroke="#231f20" stroke-width="0.15">(264/294)</text>
<line x1="333.1" y1="651.6" x2="333.1" y2="654.6" stroke="#231f20" stroke-width="1"/>
<text x="333.1" y="663.7" font-size="6.3" text-anchor="middle" textLength="13" lengthAdjust="spacingAndGlyphs" fill="#231f20" stroke="#231f20" stroke-width="0.15">CD8</text>
<text x="333.1" y="671.7" font-size="6.3" text-anchor="middle" textLength="29" lengthAdjust="spacingAndGlyphs" fill="#231f20" stroke="#231f20" stroke-width="0.15">(487/128)</text>
<line x1="379.5" y1="651.6" x2="379.5" y2="654.6" stroke="#231f20" stroke-width="1"/>
<text x="379.5" y="663.7" font-size="6.3" text-anchor="middle" textLength="44.7" lengthAdjust="spacingAndGlyphs" fill="#231f20" stroke="#231f20" stroke-width="0.15">T_proliferating</text>
<text x="379.5" y="671.7" font-size="6.3" text-anchor="middle" textLength="25" lengthAdjust="spacingAndGlyphs" fill="#231f20" stroke="#231f20" stroke-width="0.15">(113/96)</text>
<text transform="translate(243.8,577) rotate(-90)" x="0" y="0" font-size="10" text-anchor="middle" fill="#231f20" stroke="#231f20" stroke-width="0.15" textLength="67.6" lengthAdjust="spacingAndGlyphs">Module score (TCA)</text>
<circle cx="277.95" cy="511.1" r="2.6" fill="#27498c"/>
<text x="284.34999999999997" y="512.9" font-size="5.6" textLength="23" lengthAdjust="spacingAndGlyphs" fill="#231f20" stroke="#231f20" stroke-width="0.15">no GvHD</text>
<rect x="275.34999999999997" y="518.9" width="5.2" height="5.2" fill="#b3112e"/>
<text x="284.34999999999997" y="523.4" font-size="5.6" textLength="25.6" lengthAdjust="spacingAndGlyphs" fill="#231f20" stroke="#231f20" stroke-width="0.15">pre-GvHD</text>
<line x1="272.7" y1="641.4" x2="284.3" y2="641.4" stroke="#111" stroke-width="1.1"/>
<line x1="278.5" y1="639.4" x2="278.5" y2="643.4" stroke="#111" stroke-width="0.9"/>
<line x1="275.7" y1="639.4" x2="281.3" y2="639.4" stroke="#111" stroke-width="0.9"/>
<line x1="275.7" y1="643.4" x2="281.3" y2="643.4" stroke="#111" stroke-width="0.9"/>
<ellipse cx="278.5" cy="641.4" rx="2.9" ry="2.6" fill="#27498c"/>
<line x1="289.3" y1="639.7" x2="300.90000000000003" y2="639.7" stroke="#111" stroke-width="1.1"/>
<line x1="295.1" y1="637.9000000000001" x2="295.1" y2="641.5" stroke="#111" stroke-width="0.9"/>
<line x1="292.3" y1="637.9000000000001" x2="297.90000000000003" y2="637.9000000000001" stroke="#111" stroke-width="0.9"/>
<line x1="292.3" y1="641.5" x2="297.90000000000003" y2="641.5" stroke="#111" stroke-width="0.9"/>
<rect x="292.40000000000003" y="636.9000000000001" width="5.4" height="5.6" fill="#b3112e"/>
<line x1="318.4" y1="636.2" x2="330.0" y2="636.2" stroke="#111" stroke-width="1.1"/>
<line x1="324.2" y1="634.4000000000001" x2="324.2" y2="638.0" stroke="#111" stroke-width="0.9"/>
<line x1="321.4" y1="634.4000000000001" x2="327.0" y2="634.4000000000001" stroke="#111" stroke-width="0.9"/>
<line x1="321.4" y1="638.0" x2="327.0" y2="638.0" stroke="#111" stroke-width="0.9"/>
<ellipse cx="324.2" cy="636.2" rx="2.9" ry="2.6" fill="#27498c"/>
<line x1="336.0" y1="635.5" x2="347.6" y2="635.5" stroke="#111" stroke-width="1.1"/>
<line x1="341.8" y1="631.9" x2="341.8" y2="639.1" stroke="#111" stroke-width="0.9"/>
<line x1="339.0" y1="631.9" x2="344.6" y2="631.9" stroke="#111" stroke-width="0.9"/>
<line x1="339.0" y1="639.1" x2="344.6" y2="639.1" stroke="#111" stroke-width="0.9"/>
<rect x="339.1" y="632.7" width="5.4" height="5.6" fill="#b3112e"/>
<line x1="364.4" y1="603" x2="376.0" y2="603" stroke="#111" stroke-width="1.1"/>
<line x1="370.2" y1="599.6" x2="370.2" y2="606.4" stroke="#111" stroke-width="0.9"/>
<line x1="367.4" y1="599.6" x2="373.0" y2="599.6" stroke="#111" stroke-width="0.9"/>
<line x1="367.4" y1="606.4" x2="373.0" y2="606.4" stroke="#111" stroke-width="0.9"/>
<ellipse cx="370.2" cy="603" rx="2.9" ry="2.6" fill="#27498c"/>
<line x1="382.4" y1="613" x2="394.0" y2="613" stroke="#111" stroke-width="1.1"/>
<line x1="388.2" y1="609.0" x2="388.2" y2="617.0" stroke="#111" stroke-width="0.9"/>
<line x1="385.4" y1="609.0" x2="391.0" y2="609.0" stroke="#111" stroke-width="0.9"/>
<line x1="385.4" y1="617.0" x2="391.0" y2="617.0" stroke="#111" stroke-width="0.9"/>
<rect x="385.5" y="610.2" width="5.4" height="5.6" fill="#b3112e"/>
</svg>
</body></html>
